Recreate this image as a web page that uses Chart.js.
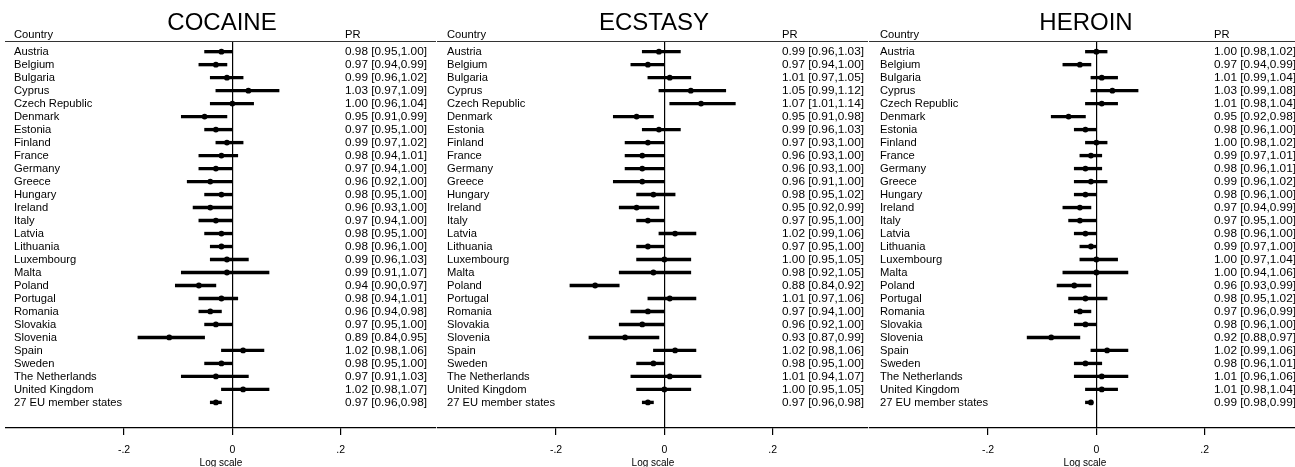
<!DOCTYPE html>
<html>
<head>
<meta charset="utf-8">
<script src="https://cdn.jsdelivr.net/npm/chart.js@4.4.0/dist/chart.umd.min.js"></script>
<style>
html, body { margin: 0; padding: 0; background: #fff; overflow: hidden; }
#wrap { position: relative; width: 1295px; height: 467px; overflow: hidden; }
canvas { position: absolute; top: 0; }
</style>
</head>
<body>
<div id="wrap">
  <canvas id="c0" width="440" height="467" style="left:0px"></canvas>
  <canvas id="c1" width="440" height="467" style="left:432px"></canvas>
  <canvas id="c2" width="440" height="467" style="left:864px"></canvas>
</div>
<script>
const countries = [
    "Austria", "Belgium", "Bulgaria", "Cyprus", "Czech Republic", "Denmark", "Estonia",
    "Finland", "France", "Germany", "Greece", "Hungary", "Ireland", "Italy", "Latvia",
    "Lithuania", "Luxembourg", "Malta", "Poland", "Portugal", "Romania", "Slovakia",
    "Slovenia", "Spain", "Sweden", "The Netherlands", "United Kingdom", "27 EU member states"
];

const cocainePR   = [0.98, 0.97, 0.99, 1.03, 1.00, 0.95, 0.97, 0.99, 0.98, 0.97, 0.96, 0.98, 0.96, 0.97, 0.98, 0.98, 0.99, 0.99, 0.94, 0.98, 0.96, 0.97, 0.89, 1.02, 0.98, 0.97, 1.02, 0.97];
const cocaineLow  = [0.95, 0.94, 0.96, 0.97, 0.96, 0.91, 0.95, 0.97, 0.94, 0.94, 0.92, 0.95, 0.93, 0.94, 0.95, 0.96, 0.96, 0.91, 0.90, 0.94, 0.94, 0.95, 0.84, 0.98, 0.95, 0.91, 0.98, 0.96];
const cocaineHigh = [1.00, 0.99, 1.02, 1.09, 1.04, 0.99, 1.00, 1.02, 1.01, 1.00, 1.00, 1.00, 1.00, 1.00, 1.00, 1.00, 1.03, 1.07, 0.97, 1.01, 0.98, 1.00, 0.95, 1.06, 1.00, 1.03, 1.07, 0.98];

const ecstasyPR   = [0.99, 0.97, 1.01, 1.05, 1.07, 0.95, 0.99, 0.97, 0.96, 0.96, 0.96, 0.98, 0.95, 0.97, 1.02, 0.97, 1.00, 0.98, 0.88, 1.01, 0.97, 0.96, 0.93, 1.02, 0.98, 1.01, 1.00, 0.97];
const ecstasyLow  = [0.96, 0.94, 0.97, 0.99, 1.01, 0.91, 0.96, 0.93, 0.93, 0.93, 0.91, 0.95, 0.92, 0.95, 0.99, 0.95, 0.95, 0.92, 0.84, 0.97, 0.94, 0.92, 0.87, 0.98, 0.95, 0.94, 0.95, 0.96];
const ecstasyHigh = [1.03, 1.00, 1.05, 1.12, 1.14, 0.98, 1.03, 1.00, 1.00, 1.00, 1.00, 1.02, 0.99, 1.00, 1.06, 1.00, 1.05, 1.05, 0.92, 1.06, 1.00, 1.00, 0.99, 1.06, 1.00, 1.07, 1.05, 0.98];

const heroinPR    = [1.00, 0.97, 1.01, 1.03, 1.01, 0.95, 0.98, 1.00, 0.99, 0.98, 0.99, 0.98, 0.97, 0.97, 0.98, 0.99, 1.00, 1.00, 0.96, 0.98, 0.97, 0.98, 0.92, 1.02, 0.98, 1.01, 1.01, 0.99];
const heroinLow   = [0.98, 0.94, 0.99, 0.99, 0.98, 0.92, 0.96, 0.98, 0.97, 0.96, 0.96, 0.96, 0.94, 0.95, 0.96, 0.97, 0.97, 0.94, 0.93, 0.95, 0.96, 0.96, 0.88, 0.99, 0.96, 0.96, 0.98, 0.98];
const heroinHigh  = [1.02, 0.99, 1.04, 1.08, 1.04, 0.98, 1.00, 1.02, 1.01, 1.01, 1.02, 1.00, 0.99, 1.00, 1.00, 1.00, 1.04, 1.06, 0.99, 1.02, 0.99, 1.00, 0.97, 1.06, 1.01, 1.06, 1.04, 0.99];

const xTicks = [-0.2, 0, 0.2];

Chart.defaults.font.family = '"Liberation Sans", Arial, sans-serif';
Chart.defaults.color = '#000';

const fmt = v => v.toFixed(2);

// titles, column headers, country names and PR text
const forestText = {
    id: 'forestText',
    afterDraw(chart, args, opts) {
        const { ctx, chartArea, scales: { y } } = chart;
        ctx.save();
        ctx.fillStyle = '#000';
        ctx.textBaseline = 'middle';

        ctx.font = '24px "Liberation Sans", Arial, sans-serif';
        ctx.textAlign = 'center';
        ctx.fillText(opts.title, 222, 23);

        ctx.textAlign = 'left';
        ctx.font = '11.2px "Liberation Sans", Arial, sans-serif';
        ctx.fillText('Country', opts.countryX, 34.5);
        ctx.fillText('PR', opts.prX, 34.5);

        ctx.strokeStyle = '#333';
        ctx.lineWidth = 1;
        ctx.beginPath();
        ctx.moveTo(chartArea.left - 1, chartArea.top + 0.5);
        ctx.lineTo(chartArea.right, chartArea.top + 0.5);
        ctx.stroke();

        countries.forEach((c, i) => {
            ctx.fillText(c, opts.countryX, y.getPixelForValue(i) + 0.5);
        });

        ctx.font = '11.8px "Liberation Sans", Arial, sans-serif';
        opts.pr.forEach((v, i) => {
            const s = fmt(v) + ' [' + fmt(opts.lo[i]) + ',' + fmt(opts.hi[i]) + ']';
            ctx.fillText(s, opts.prX, y.getPixelForValue(i) + 0.5);
        });
        ctx.restore();
    }
};

const panels = [
    { id: 'c0', title: 'COCAINE', pr: cocainePR, lo: cocaineLow, hi: cocaineHigh, countryX: 14, prX: 345 },
    { id: 'c1', title: 'ECSTASY', pr: ecstasyPR, lo: ecstasyLow, hi: ecstasyHigh, countryX: 15, prX: 350 },
    { id: 'c2', title: 'HEROIN', pr: heroinPR, lo: heroinLow, hi: heroinHigh, countryX: 16, prX: 350 },
];

panels.forEach(p => {
    const ctx = document.getElementById(p.id).getContext('2d');
    new Chart(ctx, {
        type: 'bar',
        data: {
            datasets: [
                {
                    type: 'scatter',
                    order: 0,
                    data: p.pr.map((v, i) => ({ x: Math.log(v), y: i })),
                    pointRadius: 2.9,
                    pointBackgroundColor: '#000',
                    pointBorderWidth: 0,
                },
                {
                    type: 'bar',
                    order: 1,
                    data: p.lo.map((v, i) => ({ y: i, x: [Math.log(v), Math.log(p.hi[i])] })),
                    backgroundColor: '#000',
                    borderWidth: 0,
                    barThickness: 2.7,
                },
            ],
        },
        options: {
            indexAxis: 'y',
            responsive: false,
            animation: false,
            layout: { padding: { left: 6, right: 4, top: 41, bottom: 0 } },
            plugins: {
                legend: { display: false },
                tooltip: { enabled: false },
                forestText: p,
            },
            scales: {
                x: {
                    type: 'linear',
                    min: -0.418,
                    max: 0.376,
                    afterBuildTicks: s => { s.ticks = xTicks.map(v => ({ value: v })); },
                    afterFit: s => { s.height = 39; },
                    ticks: {
                        font: { size: 10.5 },
                        padding: 9,
                        maxRotation: 0,
                        autoSkip: false,
                        callback: v => String(v).replace('0.', '.'),
                    },
                    grid: {
                        drawOnChartArea: true,
                        color: c => (c.tick && c.tick.value === 0 ? '#000' : 'rgba(0,0,0,0)'),
                        tickColor: '#000',
                        tickLength: 7,
                        lineWidth: 1.2,
                    },
                    border: { display: true, color: '#000', width: 1.3 },
                    title: {
                        display: true,
                        text: 'Log scale',
                        font: { size: 10, lineHeight: 0.8 },
                        padding: 0,
                    },
                },
                y: {
                    type: 'linear',
                    display: false,
                    reverse: true,
                    offset: false,
                    min: -0.82,
                    max: 28.97,
                },
            },
        },
        plugins: [forestText],
    });
});
</script>
</body>
</html>
